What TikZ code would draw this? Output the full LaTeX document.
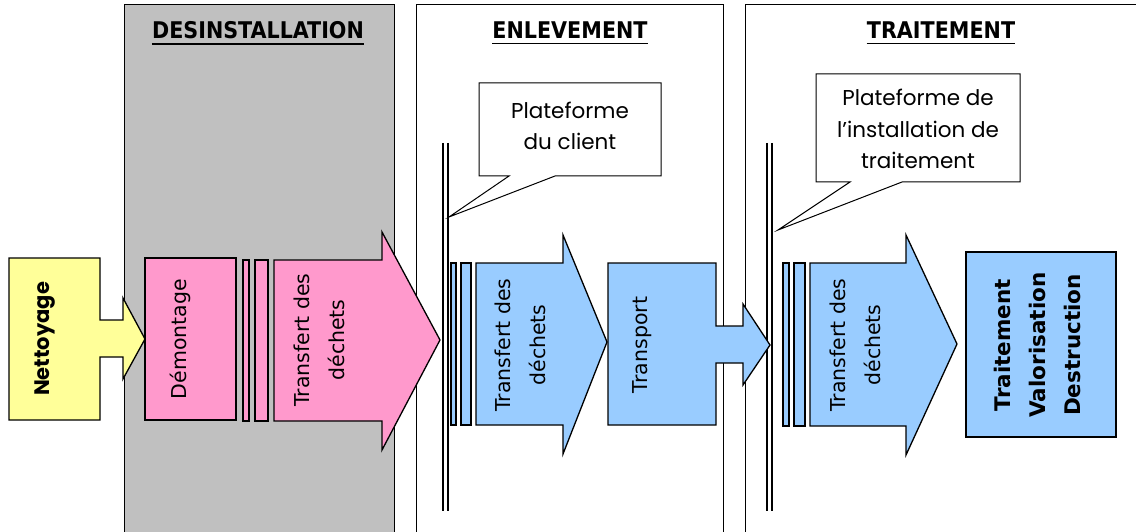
\documentclass[tikz,border=0pt]{standalone}
\usepackage{fontspec}
\setmainfont{DejaVu Sans}
\newfontfamily\gothic{Poppins}
\newfontfamily\headfont{DejaVu Sans Condensed}
\definecolor{grisfond}{HTML}{C0C0C0}
\definecolor{rose}{HTML}{FF99CC}
\definecolor{jaune}{HTML}{FFFF99}
\definecolor{bleu}{HTML}{99CCFF}
\begin{document}
\begin{tikzpicture}[x=1pt, y=-1pt, line join=miter, font=\fontsize{20.5}{35}\selectfont]
	\tikzset{panel/.style={draw, line width=0.9pt},
		outline/.style={draw, line width=1.3pt},
		titre/.style={font=\headfont\bfseries\fontsize{23}{26}\selectfont, inner sep=0pt},
		vtext/.style={rotate=90, align=center, inner sep=0pt},
		bulle/.style={align=center, inner sep=0pt, font=\gothic\fontsize{21.5}{31.5}\selectfont}}
	\useasboundingbox (0,0) rectangle (1136,532);
	\clip (0,0) rectangle (1136,532);
	% phases
	\draw[panel, fill=grisfond] (124,4) rectangle (394,545);
	\draw[panel] (416,4) rectangle (723,545);
	\draw[panel] (745,4) rectangle (1150,545);
	\node[titre] (desinst) at (258,30) {DESINSTALLATION};
	\node[titre] (enlev) at (570,30) {ENLEVEMENT};
	\node[titre] (trait) at (941,30) {TRAITEMENT};
	\foreach \t in {desinst, enlev, trait}
		\draw[line width=1.6pt] ([yshift=-5pt]\t.south west) -- ([yshift=-5pt]\t.south east);
	% plateformes
	\draw[line width=1.6pt] (443,143) -- (443,511) (448,143) -- (448,511);
	\draw[line width=1.6pt] (767,143) -- (767,511) (772,143) -- (772,511);
	\draw[outline, line width=1pt, fill=white] (479,83) -- (661,83) -- (661,176) -- (555,176) -- (449,217) -- (509,176) -- (479,176) -- cycle;
	\node[bulle] (client) at (570,126) {Plateforme\\du client};
	\draw[outline, line width=1pt, fill=white] (816,74) -- (1020,74) -- (1020,182) -- (902,182) -- (778,230) -- (850,182) -- (816,182) -- cycle;
	\node[bulle] (install) at (918,129) {Plateforme de\\l’installation de\\traitement};
	% desinstallation
	\draw[outline, fill=jaune] (9,258) -- (100,258) -- (100,320) -- (123,320) -- (123,298) -- (145,339) -- (123,379) -- (123,357) -- (100,357) -- (100,420) -- (9,420) -- cycle;
	\node[vtext, font=\gothic\bfseries\fontsize{21}{35}\selectfont] (nettoyage) at (45,339) {Nettoyage};
	\draw[outline, fill=rose] (145,258) rectangle (236,420);
	\node[vtext] (demontage) at (180,339) {Démontage};
	\draw[outline, fill=rose] (243,260) rectangle (249,421) (255,260) rectangle (268,421);
	\draw[outline, fill=rose] (274,260) -- (382,260) -- (382,232) -- (440,340) -- (382,450) -- (382,421) -- (274,421) -- cycle;
	\node[vtext] (transfert1) at (319,340) {Transfert des\\déchets};
	% enlevement
	\draw[outline, fill=bleu] (451,263) rectangle (456,425) (461,263) rectangle (471,425);
	\draw[outline, fill=bleu] (476,263) -- (563,263) -- (563,235) -- (607,342) -- (563,454) -- (563,425) -- (476,425) -- cycle;
	\node[vtext] (transfert2) at (520,345) {Transfert des\\déchets};
	\draw[outline, fill=bleu] (608,263) -- (716,263) -- (716,326) -- (743,326) -- (743,304) -- (770,345) -- (743,385) -- (743,363) -- (716,363) -- (716,425) -- (608,425) -- cycle;
	\node[vtext] (transport) at (642,345) {Transport};
	% traitement
	\draw[outline, fill=bleu] (783,263) rectangle (789,426) (794,263) rectangle (805,426);
	\draw[outline, fill=bleu] (810,263) -- (906,263) -- (906,235) -- (957,344) -- (906,455) -- (906,426) -- (810,426) -- cycle;
	\node[vtext] (transfert3) at (855,345) {Transfert des\\déchets};
	\draw[outline, fill=bleu] (966,252) rectangle (1116,437);
	\node[vtext, font=\bfseries\fontsize{21.5}{35}\selectfont] (final) at (1037,345) {Traitement\\Valorisation\\Destruction};
\end{tikzpicture}
\end{document}
